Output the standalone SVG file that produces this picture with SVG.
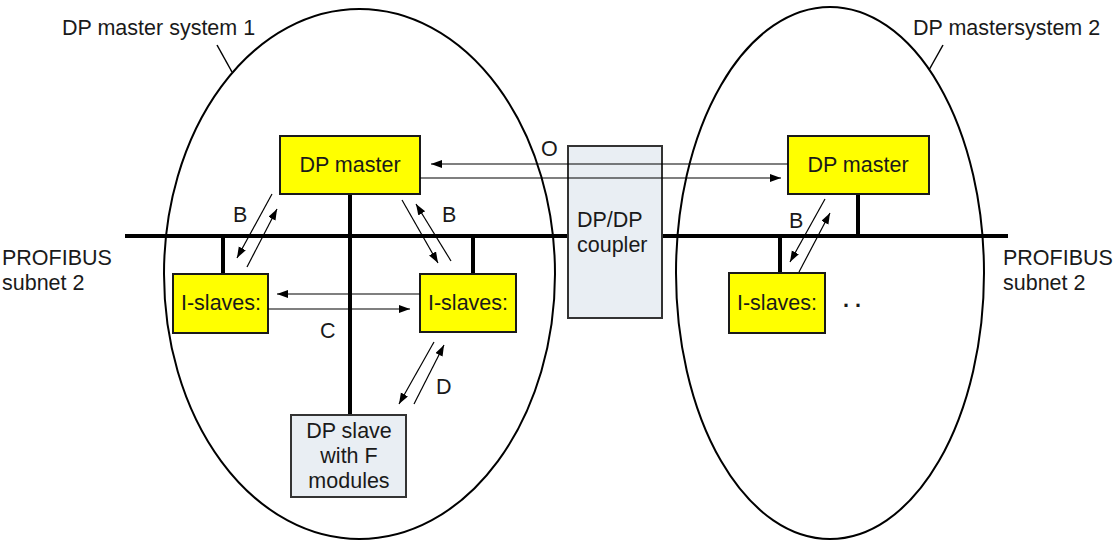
<svg xmlns="http://www.w3.org/2000/svg" width="1114" height="542" viewBox="0 0 1114 542">
  <style>
    text { font-family: "Liberation Sans", Arial, sans-serif; font-size: 21.5px; fill: #1a1a1a; }
    .sys { fill: none; stroke: #000; stroke-width: 2; }
    .bus { stroke: #000; stroke-width: 4; fill: none; }
    .yellow { fill: #ffff00; stroke: #1a1a1a; stroke-width: 2; }
    .grey { fill: #e9eef3; stroke: #333; stroke-width: 2; }
    .msg { stroke: #000; stroke-width: 1.2; fill: none; marker-end: url(#tip); }
    .thin { stroke: #000; stroke-width: 1.5; }
    .mid { text-anchor: middle; }
    .dots { font-weight: bold; }
  </style>
  <defs>
    <marker id="tip" markerUnits="userSpaceOnUse" markerWidth="12" markerHeight="9" refX="11" refY="4" orient="auto">
      <path d="M0,0 L11,4 L0,8 z" fill="#000"/>
    </marker>
  </defs>

  <!-- master system boundaries -->
  <g id="system1">
    <ellipse class="sys" cx="359.5" cy="274" rx="195.5" ry="265"/>
    <line class="thin" x1="217" y1="45" x2="232" y2="72"/>
    <text x="62" y="35">DP master system 1</text>
  </g>
  <g id="system2">
    <ellipse class="sys" cx="830" cy="273" rx="154" ry="266"/>
    <line class="thin" x1="943" y1="45" x2="929" y2="70"/>
    <text x="913" y="35">DP mastersystem 2</text>
  </g>

  <!-- PROFIBUS lines and drops -->
  <g id="bus">
    <line class="bus" x1="125" y1="236" x2="1008" y2="236"/>
    <line class="bus" x1="350" y1="194" x2="350" y2="415"/>
    <line class="bus" x1="223" y1="236" x2="223" y2="274"/>
    <line class="bus" x1="473" y1="236" x2="473" y2="274"/>
    <line class="bus" x1="858" y1="194" x2="858" y2="236"/>
    <line class="bus" x1="780" y1="236" x2="780" y2="273"/>
  </g>

  <g id="subnet-left">
    <text x="2" y="265">PROFIBUS</text>
    <text x="2" y="290">subnet 2</text>
  </g>
  <g id="subnet-right">
    <text x="1003" y="265">PROFIBUS</text>
    <text x="1003" y="290">subnet 2</text>
  </g>

  <g id="coupler">
    <rect class="grey" x="568" y="146" width="94" height="172"/>
    <text x="577" y="227">DP/DP</text>
    <text x="577" y="252">coupler</text>
  </g>

  <g id="master1">
    <rect class="yellow" x="280" y="136" width="140" height="58"/>
    <text class="mid" x="350" y="172">DP master</text>
  </g>
  <g id="islave1">
    <rect class="yellow" x="173" y="274" width="95" height="59"/>
    <text class="mid" x="221" y="310">I-slaves:</text>
  </g>
  <g id="islave2">
    <rect class="yellow" x="420" y="274" width="96" height="58"/>
    <text class="mid" x="468" y="310">I-slaves:</text>
  </g>
  <g id="dpslave">
    <rect class="grey" x="291" y="415" width="115" height="82"/>
    <text class="mid" x="349" y="438">DP slave</text>
    <text class="mid" x="349" y="463">with F</text>
    <text class="mid" x="349" y="488">modules</text>
  </g>
  <g id="master2">
    <rect class="yellow" x="788" y="136" width="141" height="58"/>
    <text class="mid" x="858" y="172">DP master</text>
  </g>
  <g id="islave3">
    <rect class="yellow" x="729" y="273" width="96" height="60"/>
    <text class="mid" x="777" y="310">I-slaves:</text>
    <text class="dots" x="843" y="307">. .</text>
  </g>

  <!-- communication relations -->
  <g id="connectors">
    <line class="msg" x1="788" y1="164" x2="431" y2="164"/>
    <line class="msg" x1="420" y1="178" x2="781" y2="178"/>
    <text x="541" y="156">O</text>

    <line class="msg" x1="272" y1="194" x2="237" y2="258"/>
    <line class="msg" x1="247" y1="267" x2="277" y2="209"/>
    <text x="233" y="222">B</text>

    <line class="msg" x1="402" y1="200" x2="438" y2="263"/>
    <line class="msg" x1="451" y1="261" x2="416" y2="204"/>
    <text x="442" y="222">B</text>

    <line class="msg" x1="420" y1="294" x2="277" y2="294"/>
    <line class="msg" x1="268" y1="309" x2="410" y2="309"/>
    <text x="320" y="338">C</text>

    <line class="msg" x1="434" y1="342" x2="399" y2="404"/>
    <line class="msg" x1="414" y1="404" x2="444" y2="345"/>
    <text x="436" y="394">D</text>

    <line class="msg" x1="825" y1="199" x2="790" y2="262"/>
    <line class="msg" x1="799" y1="272" x2="830" y2="213"/>
    <text x="789" y="228">B</text>
  </g>
</svg>
